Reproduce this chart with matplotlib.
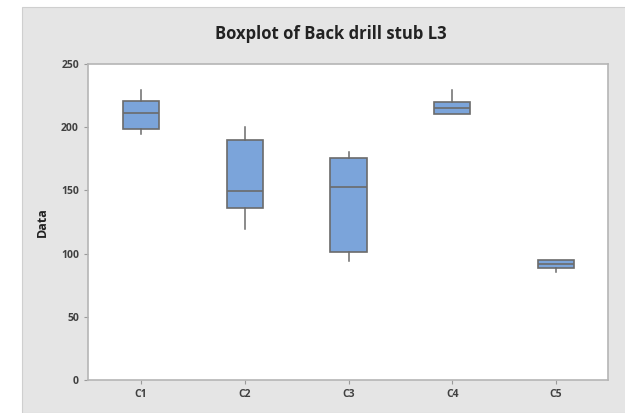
import matplotlib
matplotlib.use('Agg')
import matplotlib.pyplot as plt
from matplotlib.patches import Rectangle

# data
labels = ['C1', 'C2', 'C3', 'C4', 'C5']
whislo = [194.4, 119.7, 94.4, 210.4, 85.7]
q1 = [198.6, 136.1, 101.3, 210.4, 88.6]
med = [211.2, 149.8, 152.5, 215.2, 91.8]
q3 = [220.7, 189.9, 175.6, 219.7, 94.9]
whishi = [229.4, 200.4, 180.4, 229.4, 94.9]

stats = []
for i in range(len(labels)):
    stats.append(dict(label=labels[i], whislo=whislo[i], q1=q1[i], med=med[i],
                      q3=q3[i], whishi=whishi[i], fliers=[]))

plt.rcParams['font.family'] = ['Open Sans', 'DejaVu Sans']

fig = plt.figure(figsize=(6.25, 4.13), dpi=100)
fig.patch.set_facecolor('white')
# grey panel behind the chart
fig.patches.append(Rectangle((22 / 625, 0), 1, 1 - 7 / 413, transform=fig.transFigure,
                             facecolor='#e5e5e5', edgecolor='#cfcfcf', lw=0.8, zorder=-10))

ax = fig.add_axes([88 / 625, 1 - 380 / 413, 520 / 625, 316 / 413])
ax.set_facecolor('white')

edge = '#6b6b6b'
ax.bxp(stats, positions=range(1, 6), widths=0.35, patch_artist=True, showcaps=False,
       boxprops=dict(facecolor='#7ba4da', edgecolor=edge, lw=1.2),
       medianprops=dict(color=edge, lw=1.2),
       whiskerprops=dict(color=edge, lw=1.1))

ax.set_xlim(0.49, 5.5)
ax.set_ylim(0, 250)
ax.set_yticks([0, 50, 100, 150, 200, 250])

for s in ax.spines.values():
    s.set_color('#b5b5b5')
    s.set_linewidth(1.2)

ax.tick_params(axis='both', colors='#9a9a9a', length=3, width=0.8,
               labelsize=7.5, labelcolor='#404040')
for t in ax.get_xticklabels() + ax.get_yticklabels():
    t.set_fontweight('bold')

ax.set_ylabel('Data', fontsize=9, fontweight='bold', color='#222222', labelpad=9)
fig.text(0.53, 1 - 34 / 413, 'Boxplot of Back drill stub L3', ha='center', va='center',
         fontsize=12, fontweight='bold', color='#222222')

fig.savefig('out.png', dpi=100)
